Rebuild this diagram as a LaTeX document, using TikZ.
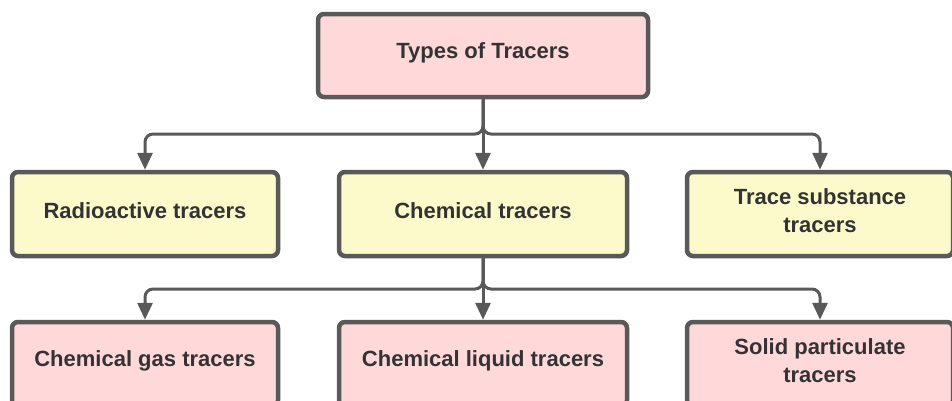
\documentclass[tikz,border=0pt]{standalone}
\usepackage{fontspec}
\setmainfont{Liberation Sans}
\usetikzlibrary{arrows.meta}
\definecolor{pinkfill}{HTML}{FFD9D9}
\definecolor{yellowfill}{HTML}{FCFACA}
\definecolor{edgegray}{HTML}{595959}
\definecolor{txt}{HTML}{333333}
\tikzset{
  box/.style={draw=edgegray, line width=4.5pt, rounded corners=6pt, inner sep=0pt},
  pinkbox/.style={box, fill=pinkfill},
  yellowbox/.style={box, fill=yellowfill},
  lbl/.style={align=center, font=\fontsize{22}{28}\selectfont\bfseries, text=txt, inner sep=0pt},
  conn/.style={draw=edgegray, line width=3pt, rounded corners=8pt,
    -{Triangle[width=15pt,length=17pt]}},
}
\begin{document}
\begin{tikzpicture}[x=1pt,y=-1pt]
\useasboundingbox[fill=white] (0,0) rectangle (952,400);
\node[pinkbox, minimum width=330pt, minimum height=83pt] (top) at (483,55.5) {};
\node[yellowbox, minimum width=266pt, minimum height=84pt] (b1) at (145,214) {};
\node[yellowbox, minimum width=288pt, minimum height=84pt] (b2) at (483,214) {};
\node[yellowbox, minimum width=266pt, minimum height=84pt] (b3) at (820,214) {};
\node[pinkbox, minimum width=266pt, minimum height=84pt] (c1) at (145,364) {};
\node[pinkbox, minimum width=288pt, minimum height=84pt] (c2) at (483,364) {};
\node[pinkbox, minimum width=266pt, minimum height=84pt] (c3) at (820,364) {};
\node[lbl] (topt) at ([yshift=2.5pt]top.center) {Types of Tracers};
\node[lbl] (b1t) at ([yshift=3pt]b1.center) {Radioactive tracers};
\node[lbl] (b2t) at ([yshift=3pt]b2.center) {Chemical tracers};
\node[lbl] (b3t) at ([yshift=3pt]b3.center) {Trace substance\\tracers};
\node[lbl] (c1t) at ([yshift=3pt]c1.center) {Chemical gas tracers};
\node[lbl] (c2t) at ([yshift=3pt]c2.center) {Chemical liquid tracers};
\node[lbl] (c3t) at ([yshift=3pt]c3.center) {Solid particulate\\tracers};
\coordinate (bar1) at (483,134);
\coordinate (bar2) at (483,289);
\draw[conn] (top.south) -- (bar1) -| (b1.north);
\draw[conn] (top.south) -- (b2.north);
\draw[conn] (top.south) -- (bar1) -| (b3.north);
\draw[conn] (b2.south) -- (bar2) -| (c1.north);
\draw[conn] (b2.south) -- (c2.north);
\draw[conn] (b2.south) -- (bar2) -| (c3.north);
\end{tikzpicture}
\end{document}
